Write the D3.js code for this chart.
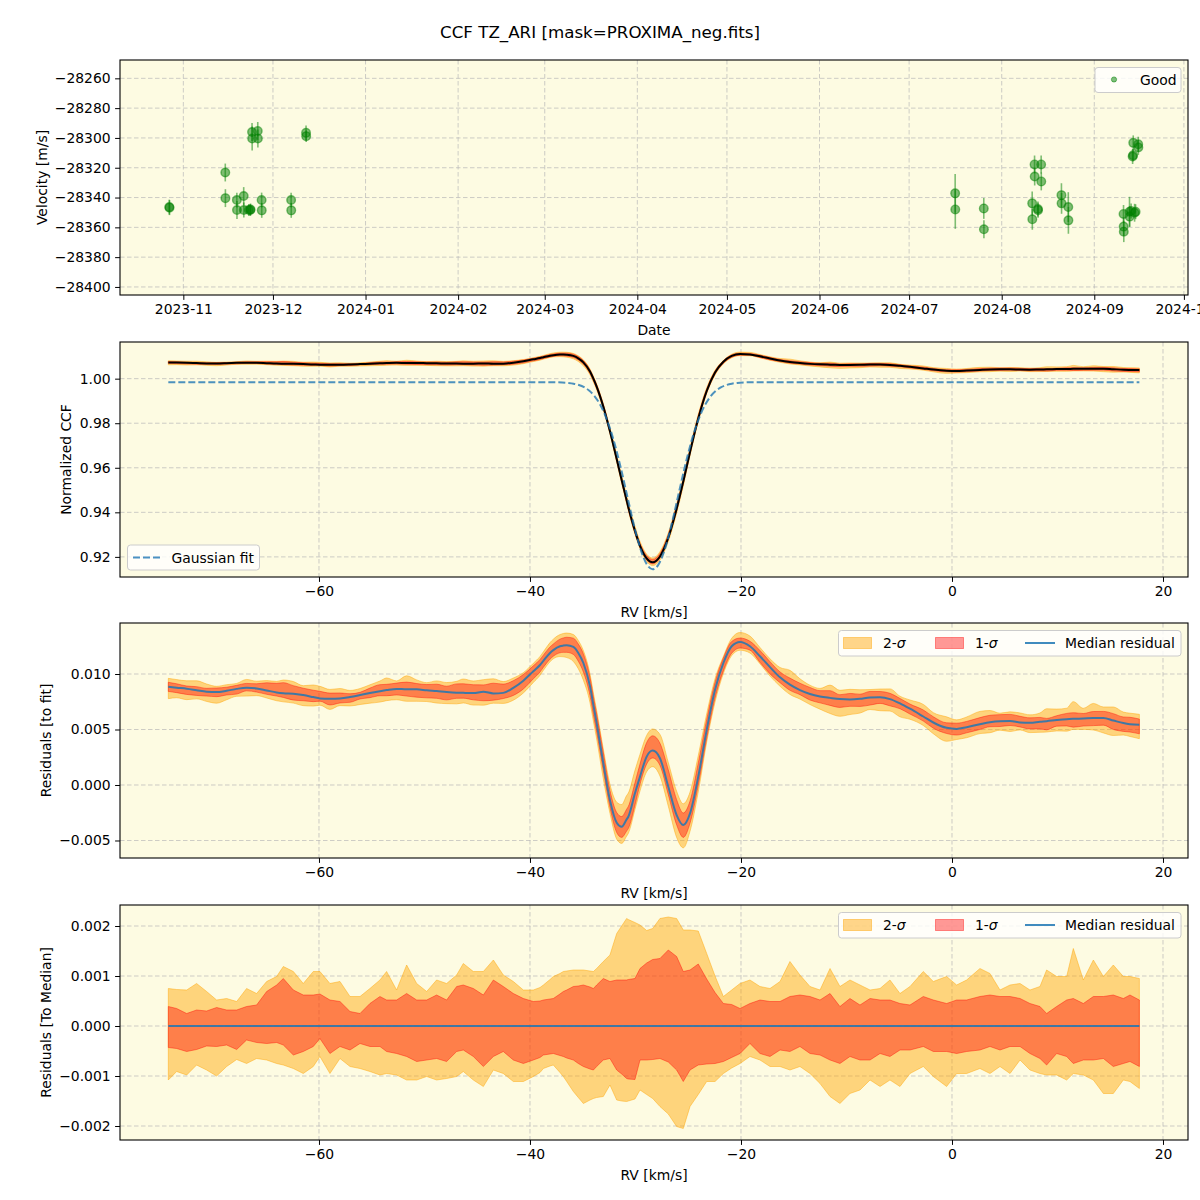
<!DOCTYPE html>
<html><head><meta charset="utf-8">
<script src="https://cdn.jsdelivr.net/npm/d3@7"></script>
<style>body{margin:0;background:#fff}svg text{font-family:"DejaVu Sans",sans-serif;fill:#000}</style>
</head><body><svg id="c" width="1200" height="1200"></svg>
<script>
// ---------- DATA ----------
const chartTitle = "CCF TZ_ARI [mask=PROXIMA_neg.fits]";
const obsDates = ["2023-10-27T07:00","2023-10-27T09:00","2023-11-15T01:00","2023-11-15T02:00","2023-11-18T22:00","2023-11-18T23:00","2023-11-21T05:00","2023-11-21T06:00","2023-11-22T22:00","2023-11-23T10:00","2023-11-23T12:00","2023-11-24T00:00","2023-11-24T01:00","2023-11-25T22:00","2023-11-25T23:00","2023-11-27T05:00","2023-11-27T06:00","2023-12-07T02:00","2023-12-07T03:00","2023-12-12T02:00","2023-12-12T03:00",
"2024-07-16T10:00","2024-07-16T11:00","2024-07-26T00:00","2024-07-26T01:00","2024-08-11T05:00","2024-08-11T06:00","2024-08-12T00:00","2024-08-12T01:00","2024-08-13T03:00","2024-08-13T04:00","2024-08-14T05:00","2024-08-14T06:00","2024-08-21T00:00","2024-08-21T01:00","2024-08-23T07:00","2024-08-23T08:00","2024-09-10T19:00","2024-09-10T20:00","2024-09-10T21:00","2024-09-12T19:00","2024-09-12T20:00","2024-09-13T08:00","2024-09-13T20:00","2024-09-14T00:00","2024-09-14T12:00","2024-09-14T01:00","2024-09-14T20:00","2024-09-15T17:00","2024-09-15T18:00"];
const obsVelocity = [-28346.4,-28346.8,-28323.2,-28340.4,-28341.7,-28348.4,-28339.0,-28348.4,-28348.4,-28348.4,-28348.0,-28296.0,-28300.4,-28295.3,-28300.4,-28341.7,-28348.6,-28341.7,-28348.6,-28296.6,-28298.8,
-28337.2,-28348.0,-28347.3,-28361.3,-28343.9,-28354.6,-28317.8,-28325.9,-28347.7,-28348.5,-28317.8,-28329.2,-28338.4,-28343.9,-28346.4,-28355.3,-28351.0,-28359.5,-28362.9,-28349.5,-28352.8,-28349.0,-28312.5,-28311.6,-28350.2,-28303.3,-28349.5,-28304.2,-28306.4];
const obsError = [5,5,6,6,5,6,6,5,4,4,4,6,8,6,6,5,5,5,5,5,4,
13,13,7,6,8,7,6,6,5,5,6,6,8,7,10,9,6,6,7,10,7,5,5,4,6,5,5,5,5];
const dateTickLabels = ["2023-11","2023-12","2024-01","2024-02","2024-03","2024-04","2024-05","2024-06","2024-07","2024-08","2024-09","2024-10"];
const velocityTicks = [-28400,-28380,-28360,-28340,-28320,-28300,-28280,-28260];

const rvGrid = [-74.28,-73.49,-72.54,-71.60,-70.65,-69.70,-68.75,-67.80,-66.86,-65.91,-64.96,-64.01,-63.38,-62.43,-61.49,-60.54,-59.91,-58.96,-58.01,-57.06,-56.11,-55.17,-54.22,-53.59,-52.64,-51.69,-50.74,-49.79,-48.85,-47.90,-46.95,-46.32,-45.37,-44.42,-43.47,-42.53,
-41.58,-40.63,-39.68,-39.05,-38.73,-38.10,-37.79,-37.16,-36.84,-36.52,-35.89,-35.42,-34.94,-34.31,-33.99,-33.68,-33.05,-32.42,-31.78,-31.31,-30.84,-30.68,-30.05,-29.57,-28.94,-28.37,-27.68,-26.89,-26.10,-25.47,-24.83,-24.05,-23.25,-22.46,-21.67,-20.88,-20.09,-19.15,-18.20,
-17.25,-16.30,-15.36,-14.41,-13.46,-12.51,-11.56,-10.62,-9.67,-8.72,-7.77,-6.82,-5.88,-4.93,-3.98,-2.72,-1.77,-0.51,0.44,1.39,2.65,3.60,4.55,5.50,6.45,7.39,8.34,8.97,9.92,10.87,11.50,12.45,13.40,14.35,15.29,16.24,16.87,17.76];

const ccfMedian = [1.00730,1.00721,1.00711,1.00698,1.00685,1.00681,1.00693,1.00710,1.00720,1.00714,1.00696,1.00678,1.00671,1.00667,1.00654,1.00636,1.00624,1.00620,1.00624,1.00637,1.00654,1.00672,1.00689,1.00699,1.00710,1.00706,1.00706,1.00697,1.00690,1.00682,1.00676,1.00674,1.00672,1.00684,1.00669,1.00674,
1.00719,1.00784,1.00869,1.00924,1.00961,1.01031,1.01055,1.01083,1.01082,1.01074,1.01021,1.00913,1.00732,1.00320,0.99998,0.99645,0.98746,0.97638,0.96392,0.95453,0.94545,0.94232,0.93168,0.92491,0.91930,0.91754,0.92019,0.92862,0.94163,0.95387,0.96708,0.98212,0.99446,1.00277,1.00761,1.01024,1.01109,1.01088,1.01003,
1.00906,1.00814,1.00748,1.00699,1.00664,1.00642,1.00629,1.00618,1.00614,1.00620,1.00632,1.00634,1.00618,1.00579,1.00531,1.00461,1.00407,1.00359,1.00349,1.00365,1.00392,1.00410,1.00419,1.00421,1.00408,1.00404,1.00414,1.00419,1.00429,1.00437,1.00440,1.00443,1.00447,1.00448,1.00425,1.00402,1.00392,1.00386];

const medianResidual = [0.00886,0.00877,0.00867,0.00854,0.00841,0.00837,0.00849,0.00866,0.00876,0.00870,0.00852,0.00834,0.00827,0.00823,0.00810,0.00792,0.00780,0.00776,0.00780,0.00793,0.00810,0.00828,0.00845,0.00855,0.00866,0.00862,0.00862,0.00853,0.00846,0.00838,0.00832,0.00830,0.00828,0.00840,0.00825,0.00830,
0.00875,0.00940,0.01025,0.01081,0.01118,0.01190,0.01215,0.01250,0.01256,0.01259,0.01244,0.01190,0.01099,0.00889,0.00720,0.00557,0.00196,-0.00136,-0.00340,-0.00376,-0.00310,-0.00286,-0.00075,0.00075,0.00256,0.00310,0.00241,-0.00015,-0.00271,-0.00361,-0.00256,0.00075,0.00497,0.00858,0.01099,0.01250,0.01289,0.01250,0.01160,
0.01062,0.00970,0.00904,0.00855,0.00820,0.00798,0.00785,0.00774,0.00770,0.00776,0.00788,0.00790,0.00774,0.00735,0.00687,0.00617,0.00563,0.00515,0.00505,0.00521,0.00548,0.00566,0.00575,0.00577,0.00564,0.00560,0.00570,0.00575,0.00585,0.00593,0.00596,0.00599,0.00603,0.00604,0.00581,0.00558,0.00548,0.00542];

// spread around the median (residual to median)
const sig2Upper = [0.00075,0.00073,0.00072,0.00085,0.00069,0.00052,0.00055,0.00049,0.00075,0.00065,0.00089,0.00099,0.00119,0.00109,0.00085,0.00109,0.00109,0.00085,0.00089,0.00059,0.00059,0.00075,0.00092,0.00109,0.00072,0.00122,0.00085,0.00069,0.00092,0.00085,0.00102,0.00125,0.00109,0.00109,0.00132,0.00102,
0.00089,0.00072,0.00072,0.00077,0.00082,0.00093,0.00099,0.00105,0.00109,0.00110,0.00112,0.00112,0.00112,0.00110,0.00109,0.00115,0.00129,0.00142,0.00185,0.00200,0.00215,0.00213,0.00207,0.00202,0.00191,0.00195,0.00215,0.00218,0.00215,0.00192,0.00192,0.00190,0.00145,0.00100,0.00059,0.00072,0.00085,0.00092,0.00079,
0.00075,0.00089,0.00129,0.00102,0.00079,0.00072,0.00115,0.00079,0.00092,0.00082,0.00072,0.00075,0.00092,0.00065,0.00079,0.00109,0.00089,0.00099,0.00082,0.00092,0.00115,0.00105,0.00072,0.00082,0.00085,0.00072,0.00079,0.00112,0.00099,0.00099,0.00155,0.00092,0.00132,0.00099,0.00122,0.00099,0.00099,0.00095];
const sig1Upper = [0.00039,0.00035,0.00025,0.00032,0.00030,0.00037,0.00032,0.00032,0.00039,0.00042,0.00069,0.00082,0.00095,0.00072,0.00062,0.00062,0.00064,0.00052,0.00049,0.00029,0.00025,0.00045,0.00059,0.00052,0.00052,0.00065,0.00052,0.00052,0.00062,0.00052,0.00079,0.00082,0.00075,0.00062,0.00092,0.00079,
0.00065,0.00055,0.00049,0.00050,0.00052,0.00054,0.00055,0.00064,0.00069,0.00072,0.00079,0.00080,0.00082,0.00078,0.00075,0.00082,0.00095,0.00089,0.00092,0.00092,0.00092,0.00093,0.00095,0.00115,0.00126,0.00133,0.00135,0.00152,0.00139,0.00109,0.00112,0.00124,0.00094,0.00067,0.00045,0.00043,0.00035,0.00045,0.00052,
0.00049,0.00049,0.00059,0.00062,0.00059,0.00052,0.00065,0.00039,0.00055,0.00042,0.00055,0.00052,0.00052,0.00045,0.00042,0.00059,0.00052,0.00045,0.00052,0.00052,0.00059,0.00062,0.00059,0.00059,0.00055,0.00045,0.00039,0.00025,0.00039,0.00052,0.00055,0.00045,0.00059,0.00059,0.00062,0.00055,0.00062,0.00052];
const sig1Lower = [-0.00043,-0.00045,-0.00051,-0.00047,-0.00040,-0.00041,-0.00038,-0.00047,-0.00028,-0.00033,-0.00035,-0.00033,-0.00038,-0.00058,-0.00051,-0.00041,-0.00025,-0.00055,-0.00041,-0.00048,-0.00035,-0.00041,-0.00041,-0.00051,-0.00055,-0.00061,-0.00071,-0.00068,-0.00065,-0.00071,-0.00051,-0.00048,-0.00061,-0.00081,-0.00061,-0.00051,
-0.00068,-0.00075,-0.00068,-0.00063,-0.00058,-0.00056,-0.00055,-0.00059,-0.00061,-0.00064,-0.00068,-0.00075,-0.00081,-0.00086,-0.00088,-0.00081,-0.00068,-0.00065,-0.00088,-0.00096,-0.00105,-0.00106,-0.00107,-0.00068,-0.00068,-0.00067,-0.00065,-0.00072,-0.00088,-0.00111,-0.00088,-0.00078,-0.00076,-0.00075,-0.00071,-0.00063,-0.00055,-0.00035,-0.00055,
-0.00061,-0.00048,-0.00051,-0.00041,-0.00055,-0.00058,-0.00068,-0.00075,-0.00061,-0.00068,-0.00068,-0.00055,-0.00061,-0.00048,-0.00048,-0.00041,-0.00051,-0.00051,-0.00055,-0.00051,-0.00048,-0.00041,-0.00048,-0.00041,-0.00041,-0.00055,-0.00065,-0.00078,-0.00055,-0.00061,-0.00075,-0.00068,-0.00068,-0.00065,-0.00081,-0.00075,-0.00071,-0.00081];
const sig2Lower = [-0.00108,-0.00091,-0.00098,-0.00078,-0.00088,-0.00100,-0.00081,-0.00067,-0.00075,-0.00065,-0.00068,-0.00075,-0.00078,-0.00085,-0.00095,-0.00081,-0.00061,-0.00095,-0.00065,-0.00081,-0.00085,-0.00091,-0.00098,-0.00095,-0.00098,-0.00108,-0.00108,-0.00101,-0.00108,-0.00105,-0.00101,-0.00091,-0.00108,-0.00121,-0.00088,-0.00095,
-0.00111,-0.00111,-0.00101,-0.00093,-0.00085,-0.00080,-0.00078,-0.00093,-0.00101,-0.00111,-0.00131,-0.00143,-0.00155,-0.00148,-0.00145,-0.00143,-0.00141,-0.00118,-0.00148,-0.00150,-0.00151,-0.00150,-0.00146,-0.00128,-0.00137,-0.00145,-0.00161,-0.00176,-0.00201,-0.00205,-0.00161,-0.00137,-0.00111,-0.00111,-0.00095,-0.00084,-0.00075,-0.00061,-0.00068,
-0.00081,-0.00081,-0.00088,-0.00081,-0.00095,-0.00115,-0.00141,-0.00155,-0.00135,-0.00128,-0.00108,-0.00121,-0.00108,-0.00121,-0.00095,-0.00081,-0.00101,-0.00121,-0.00095,-0.00095,-0.00085,-0.00095,-0.00081,-0.00095,-0.00068,-0.00088,-0.00095,-0.00098,-0.00098,-0.00108,-0.00095,-0.00098,-0.00108,-0.00135,-0.00135,-0.00108,-0.00111,-0.00125];

const fitRv = [-74.28,-40.00,-38.37,-37.37,-36.37,-35.87,-35.37,-34.87,-34.37,-33.87,-33.37,-32.87,-32.37,-31.87,-31.37,-30.87,-30.37,-29.87,-29.37,-28.87,-28.37,-27.87,-27.37,-26.87,-26.37,-25.87,-25.37,-24.87,-24.37,-23.87,-23.37,-22.87,-22.37,-21.87,-21.37,-20.87,-20.37,-19.37,-18.37,-16.00,17.76];
const fitCcf = [0.99844,0.99844,0.99843,0.99836,0.99808,0.99775,0.99716,0.99616,0.99456,0.99210,0.98851,0.98354,0.97702,0.96893,0.95949,0.94918,0.93875,0.92912,0.92132,0.91621,0.91444,0.91621,0.92132,0.92912,0.93875,0.94918,0.95949,0.96893,0.97702,0.98354,0.98851,0.99210,0.99456,0.99616,0.99716,0.99775,0.99808,0.99836,0.99843,0.99844,0.99844];

const rvTicks = [-60,-40,-20,0,20];
const ccfTicks = [0.92,0.94,0.96,0.98,1.00];
const residTicks = [-0.005,0.000,0.005,0.010];
const medTicks = [-0.002,-0.001,0.000,0.001,0.002];

// ---------- LAYOUT ----------
const svg = d3.select("#c");
const L = 120, R = 1188;
const P = [{t:60,b:295},{t:342,b:577},{t:623,b:858},{t:905,b:1140}];
const FS = 13.9, BG = "#fdfbe2", BLUE = "#1f77b4";
const GRID = {stroke:"#b8b8b8", op:0.7, dash:"4.5,2.5"};

svg.append("rect").attr("width",1200).attr("height",1200).attr("fill","#fff");
svg.append("text").attr("x",600).attr("y",38).attr("text-anchor","middle").attr("font-size",16.7).text(chartTitle);

const parseObs = d3.timeParse("%Y-%m-%dT%H:%M");
const parseMonth = d3.timeParse("%Y-%m");
const dateTicks = dateTickLabels.map(parseMonth);

function panel(i, x, y, xt, yt, xfmt, yfmt, xlab, ylab, ylabX) {
  const p = P[i];
  const g = svg.append("g");
  g.append("rect").attr("x",L).attr("y",p.t).attr("width",R-L).attr("height",p.b-p.t).attr("fill",BG);
  g.selectAll(null).data(xt).join("line")
    .attr("x1",d=>x(d)).attr("x2",d=>x(d)).attr("y1",p.t).attr("y2",p.b)
    .attr("stroke",GRID.stroke).attr("stroke-opacity",GRID.op).attr("stroke-dasharray",GRID.dash).attr("stroke-width",1);
  g.selectAll(null).data(yt).join("line")
    .attr("y1",d=>y(d)).attr("y2",d=>y(d)).attr("x1",L).attr("x2",R)
    .attr("stroke",GRID.stroke).attr("stroke-opacity",GRID.op).attr("stroke-dasharray",GRID.dash).attr("stroke-width",1);
  svg.append("clipPath").attr("id","cp"+i).append("rect").attr("x",L).attr("y",p.t).attr("width",R-L).attr("height",p.b-p.t);
  const plot = svg.append("g").attr("clip-path",`url(#cp${i})`);
  const fin = () => {
    svg.append("rect").attr("x",L).attr("y",p.t).attr("width",R-L).attr("height",p.b-p.t)
      .attr("fill","none").attr("stroke","#000").attr("stroke-width",1.1);
    const ax = svg.append("g").attr("transform",`translate(0,${p.b})`)
      .call(d3.axisBottom(x).tickValues(xt).tickFormat(xfmt).tickSize(4.9).tickPadding(4.5).tickSizeOuter(0));
    const ay = svg.append("g").attr("transform",`translate(${L},0)`)
      .call(d3.axisLeft(y).tickValues(yt).tickFormat(yfmt).tickSize(4.9).tickPadding(4.5).tickSizeOuter(0));
    [ax,ay].forEach(a=>{a.select(".domain").remove();a.attr("font-size",FS).attr("font-family","DejaVu Sans");
      a.selectAll("line").attr("stroke","#000").attr("stroke-width",1);});
    svg.append("text").attr("x",(L+R)/2).attr("y",p.b+40).attr("text-anchor","middle").attr("font-size",FS).text(xlab);
    svg.append("text").attr("transform",`translate(${ylabX},${(p.t+p.b)/2}) rotate(-90)`)
      .attr("text-anchor","middle").attr("dy","0.35em").attr("font-size",FS).text(ylab);
  };
  return {plot, fin};
}

function legendBox(x0,y0,x1,y1){
  svg.append("rect").attr("x",x0).attr("y",y0).attr("width",x1-x0).attr("height",y1-y0).attr("rx",3)
    .attr("fill","#fff").attr("fill-opacity",0.8).attr("stroke","#cccccc").attr("stroke-width",1);
}

// ---------- PANEL 1 ----------
{
  const x = d3.scaleTime().domain([parseObs("2023-10-10T19:00"), parseObs("2024-10-02T09:00")]).range([L,R]);
  const y = d3.scaleLinear().domain([-28405.4,-28247.7]).range([P[0].b,P[0].t]);
  const pn = panel(0,x,y,dateTicks,velocityTicks,d3.timeFormat("%Y-%m"),d3.format(".0f"),"Date","Velocity [m/s]",42);
  const obs = obsDates.map((d,i)=>({t:parseObs(d),v:obsVelocity[i],e:obsError[i]}));
  pn.plot.selectAll(null).data(obs).join("line")
    .attr("x1",d=>x(d.t)).attr("x2",d=>x(d.t)).attr("y1",d=>y(d.v-d.e)).attr("y2",d=>y(d.v+d.e))
    .attr("stroke","green").attr("stroke-opacity",0.5).attr("stroke-width",1.6);
  pn.plot.selectAll(null).data(obs).join("circle")
    .attr("cx",d=>x(d.t)).attr("cy",d=>y(d.v)).attr("r",4.3)
    .attr("fill","green").attr("fill-opacity",0.5).attr("stroke","green").attr("stroke-opacity",0.5).attr("stroke-width",1.4);
  pn.fin();
  legendBox(1095,67.5,1181,92.5);
  svg.append("circle").attr("cx",1114).attr("cy",79.5).attr("r",2.6).attr("fill","green").attr("fill-opacity",0.5).attr("stroke","green").attr("stroke-opacity",0.5);
  svg.append("text").attr("x",1140).attr("y",84.5).attr("font-size",FS).text("Good");
}

const xRv = d3.scaleLinear().domain([-78.86,22.37]).range([L,R]);
const idx = d3.range(rvGrid.length);

// ---------- PANEL 2 ----------
{
  const y = d3.scaleLinear().domain([0.91097,1.01646]).range([P[1].b,P[1].t]);
  const pn = panel(1,xRv,y,rvTicks,ccfTicks,d3.format("d"),d3.format(".2f"),"RV [km/s]","Normalized CCF",66);
  const area = (lo,hi)=>d3.area().curve(d3.curveMonotoneX).x(i=>xRv(rvGrid[i])).y0(i=>y(ccfMedian[i]+lo[i])).y1(i=>y(ccfMedian[i]+hi[i]));
  pn.plot.append("path").datum(idx).attr("d",area(sig2Lower,sig2Upper)).attr("fill","orange").attr("fill-opacity",0.45).attr("stroke","orange").attr("stroke-opacity",0.45);
  pn.plot.append("path").datum(idx).attr("d",area(sig1Lower,sig1Upper)).attr("fill","red").attr("fill-opacity",0.4).attr("stroke","red").attr("stroke-opacity",0.4);
  pn.plot.append("path").datum(idx).attr("d",d3.line().curve(d3.curveMonotoneX).x(i=>xRv(rvGrid[i])).y(i=>y(ccfMedian[i])))
    .attr("fill","none").attr("stroke","#000").attr("stroke-width",2);
  pn.plot.append("path").datum(d3.range(fitRv.length)).attr("d",d3.line().curve(d3.curveMonotoneX).x(i=>xRv(fitRv[i])).y(i=>y(fitCcf[i])))
    .attr("fill","none").attr("stroke",BLUE).attr("stroke-opacity",0.8).attr("stroke-width",2).attr("stroke-dasharray","7,3");
  pn.fin();
  legendBox(127.5,545,259.5,570);
  svg.append("line").attr("x1",133).attr("x2",161).attr("y1",557.5).attr("y2",557.5).attr("stroke",BLUE).attr("stroke-opacity",0.8).attr("stroke-width",2).attr("stroke-dasharray","7,3");
  svg.append("text").attr("x",171.5).attr("y",562.5).attr("font-size",FS).text("Gaussian fit");
}

function sigmaLegend(top){
  legendBox(838.5,top,1181,top+25.5);
  const cy = top+12.5;
  svg.append("rect").attr("x",843.5).attr("y",cy-5.5).attr("width",28).attr("height",11).attr("fill","orange").attr("fill-opacity",0.45).attr("stroke","orange").attr("stroke-opacity",0.45);
  const t1 = svg.append("text").attr("x",883).attr("y",cy+5).attr("font-size",FS);
  t1.append("tspan").text("2-"); t1.append("tspan").attr("font-style","italic").text("σ");
  svg.append("rect").attr("x",935.5).attr("y",cy-5.5).attr("width",28).attr("height",11).attr("fill","red").attr("fill-opacity",0.4).attr("stroke","red").attr("stroke-opacity",0.4);
  const t2 = svg.append("text").attr("x",975).attr("y",cy+5).attr("font-size",FS);
  t2.append("tspan").text("1-"); t2.append("tspan").attr("font-style","italic").text("σ");
  svg.append("line").attr("x1",1025).attr("x2",1055).attr("y1",cy).attr("y2",cy).attr("stroke",BLUE).attr("stroke-opacity",0.85).attr("stroke-width",2);
  svg.append("text").attr("x",1065).attr("y",cy+5).attr("font-size",FS).text("Median residual");
}

// ---------- PANEL 3 ----------
{
  const y = d3.scaleLinear().domain([-0.006577,0.014595]).range([P[2].b,P[2].t]);
  const pn = panel(2,xRv,y,rvTicks,residTicks,d3.format("d"),d3.format(".3f"),"RV [km/s]","Residuals [to fit]",46);
  const area = (lo,hi)=>d3.area().curve(d3.curveMonotoneX).x(i=>xRv(rvGrid[i])).y0(i=>y(medianResidual[i]+lo[i])).y1(i=>y(medianResidual[i]+hi[i]));
  pn.plot.append("path").datum(idx).attr("d",area(sig2Lower,sig2Upper)).attr("fill","orange").attr("fill-opacity",0.45).attr("stroke","orange").attr("stroke-opacity",0.45);
  pn.plot.append("path").datum(idx).attr("d",area(sig1Lower,sig1Upper)).attr("fill","red").attr("fill-opacity",0.4).attr("stroke","red").attr("stroke-opacity",0.4);
  pn.plot.append("path").datum(idx).attr("d",d3.line().curve(d3.curveMonotoneX).x(i=>xRv(rvGrid[i])).y(i=>y(medianResidual[i])))
    .attr("fill","none").attr("stroke",BLUE).attr("stroke-opacity",0.85).attr("stroke-width",2);
  pn.fin();
  sigmaLegend(630.5);
}

// ---------- PANEL 4 ----------
{
  const y = d3.scaleLinear().domain([-0.00228,0.00242]).range([P[3].b,P[3].t]);
  const pn = panel(3,xRv,y,rvTicks,medTicks,d3.format("d"),d3.format(".3f"),"RV [km/s]","Residuals [To Median]",46);
  const area = (lo,hi)=>d3.area().x(i=>xRv(rvGrid[i])).y0(i=>y(lo[i])).y1(i=>y(hi[i]));
  pn.plot.append("path").datum(idx).attr("d",area(sig2Lower,sig2Upper)).attr("fill","orange").attr("fill-opacity",0.45).attr("stroke","orange").attr("stroke-opacity",0.45);
  pn.plot.append("path").datum(idx).attr("d",area(sig1Lower,sig1Upper)).attr("fill","red").attr("fill-opacity",0.4).attr("stroke","red").attr("stroke-opacity",0.4);
  pn.plot.append("path").datum(idx).attr("d",d3.line().x(i=>xRv(rvGrid[i])).y(i=>y(medianResidual[i]-medianResidual[i])))
    .attr("fill","none").attr("stroke",BLUE).attr("stroke-opacity",0.85).attr("stroke-width",2);
  pn.fin();
  sigmaLegend(912.5);
}
</script></body></html>
